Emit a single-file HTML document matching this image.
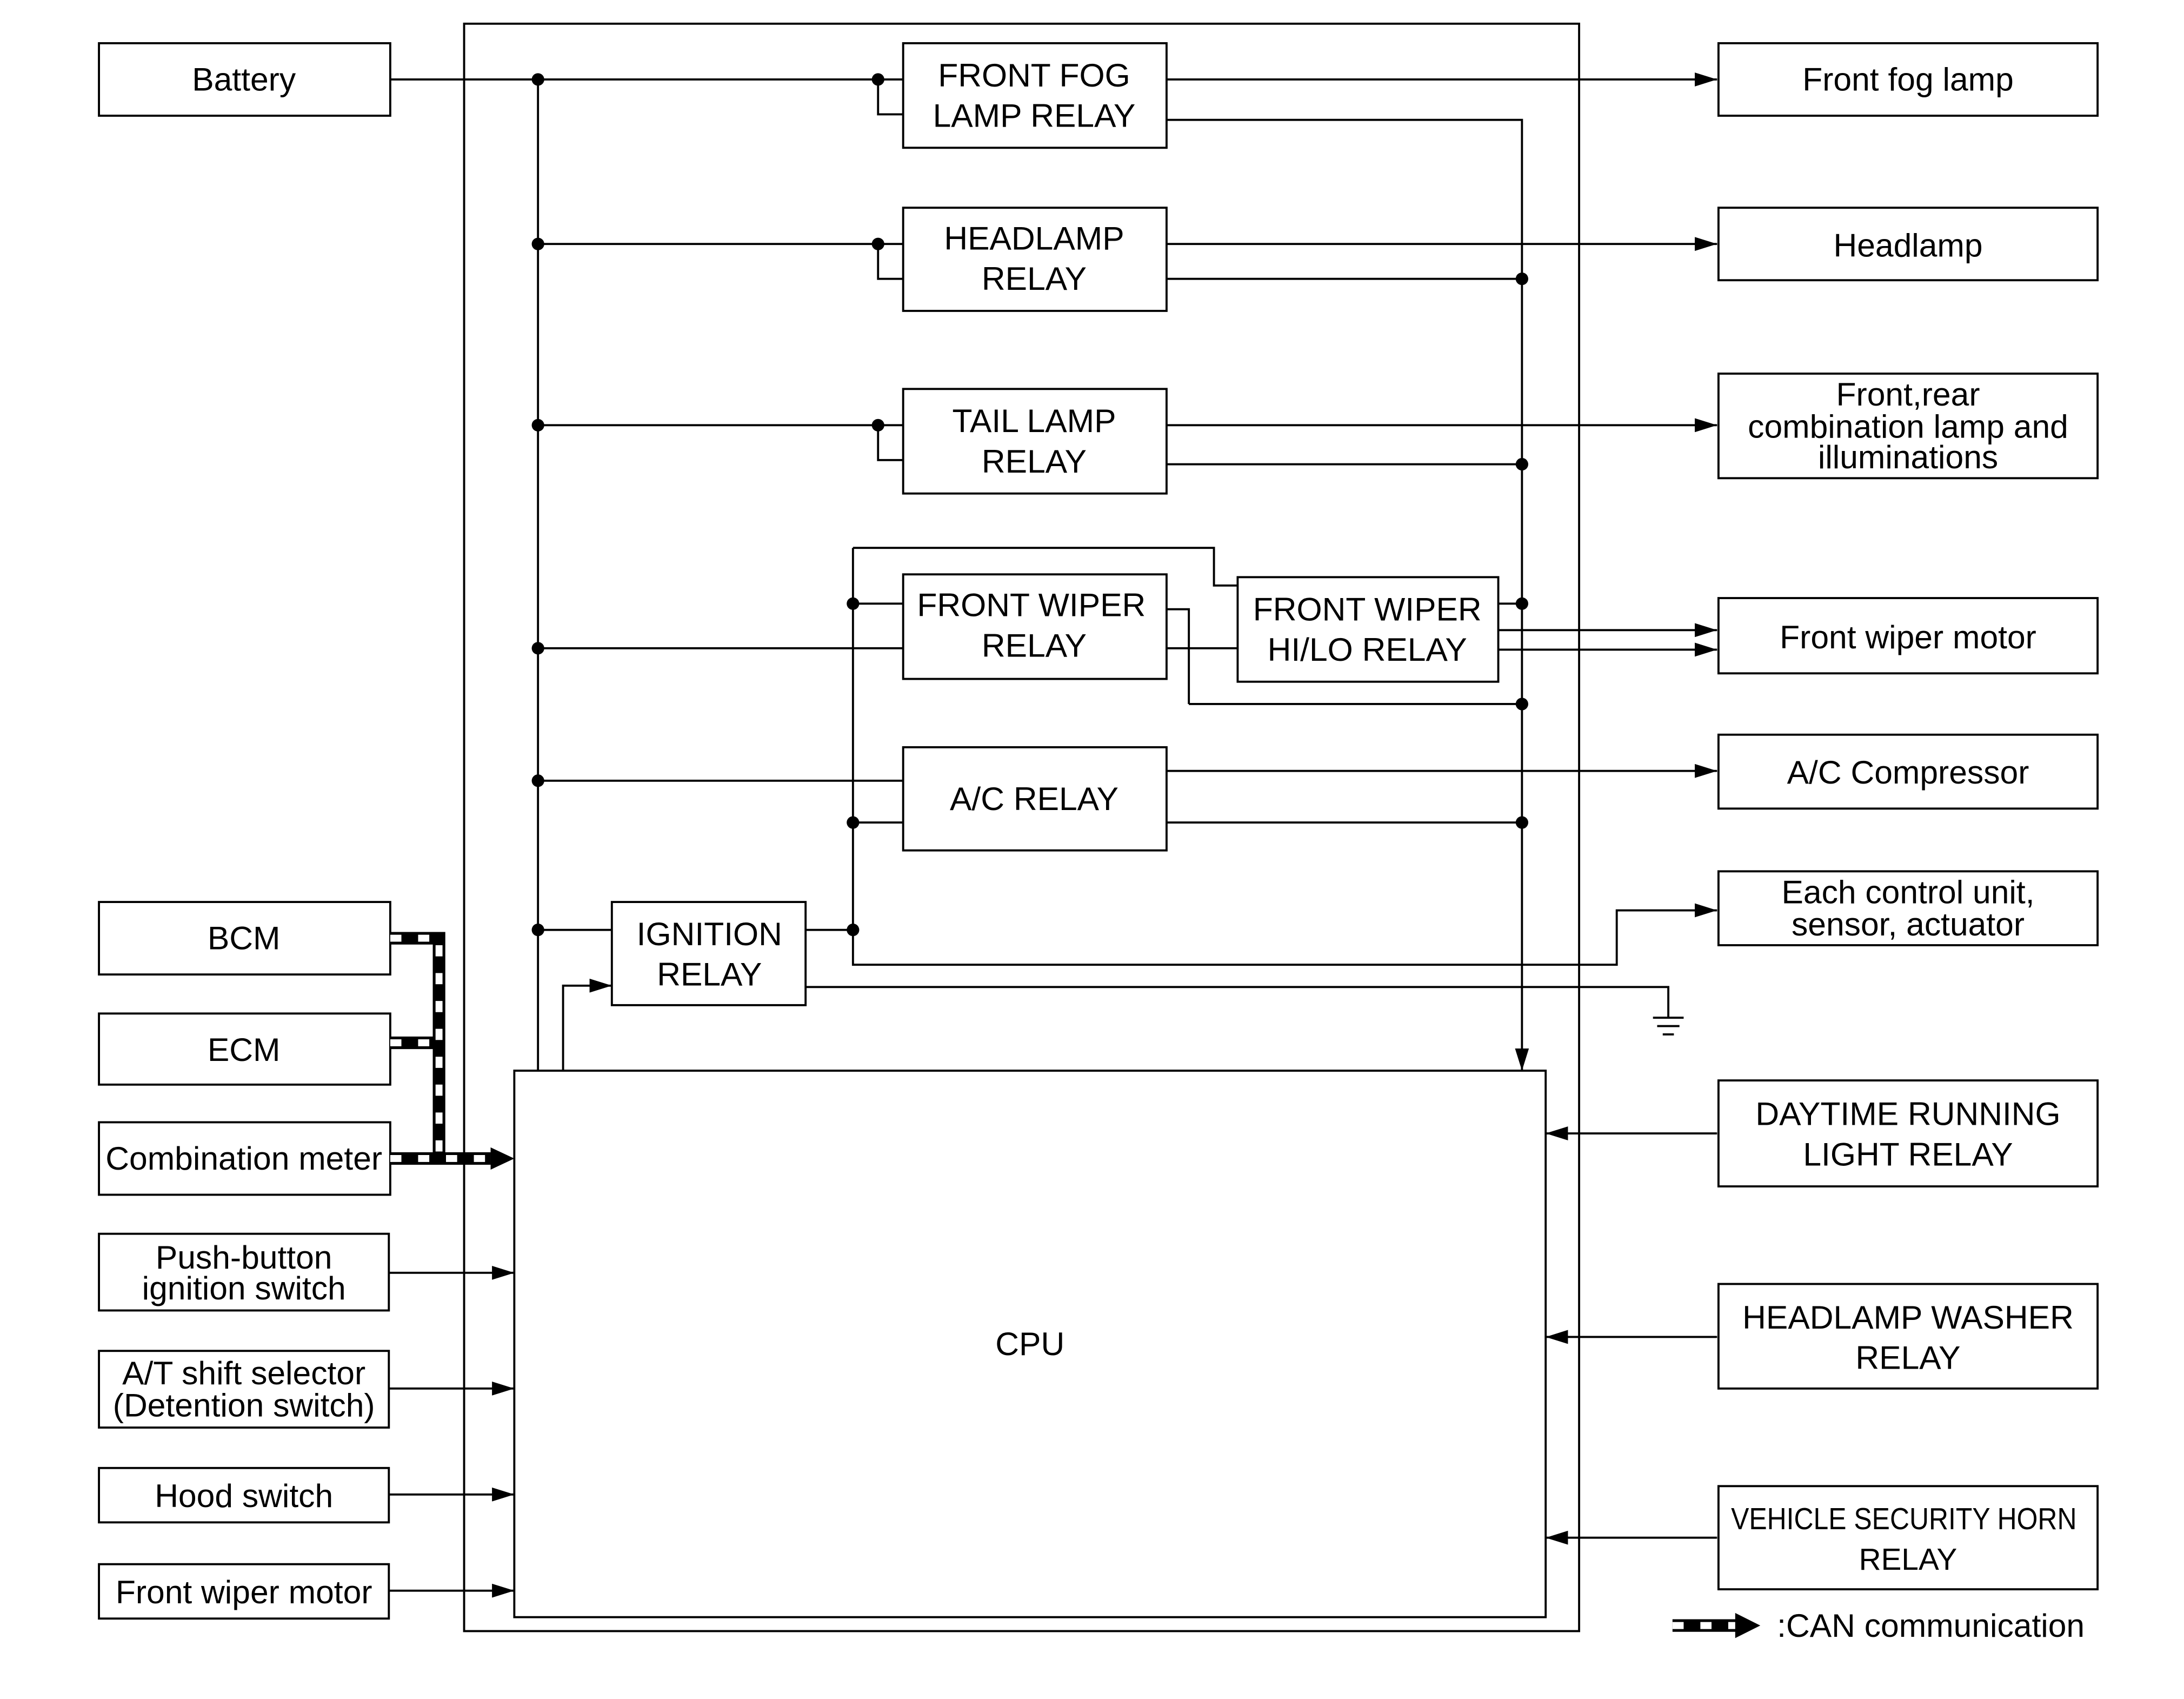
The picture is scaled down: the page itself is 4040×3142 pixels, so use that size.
<!DOCTYPE html>
<html><head><meta charset="utf-8"><style>
html,body{margin:0;padding:0;background:#fff;}
svg{display:block;}
text{font-family:"Liberation Sans",Arial,sans-serif;font-size:23.5px;fill:#000;text-anchor:middle;}
</style></head><body>
<svg width="4040" height="3142" viewBox="0 0 1567 1218.7" preserveAspectRatio="none" xmlns="http://www.w3.org/2000/svg">
<defs>
<marker id="a" markerWidth="16" markerHeight="10" refX="16" refY="5" orient="auto" markerUnits="userSpaceOnUse"><path d="M0,0 L16,5 L0,10 Z" fill="#000"/></marker>
</defs>
<g fill="none" stroke="#000" stroke-width="1.5">
<rect x="333" y="17" width="800" height="1153"/>
<rect x="369" y="768" width="740" height="392"/>
<rect x="71" y="31" width="209" height="52"/>
<rect x="71" y="647" width="209" height="52"/>
<rect x="71" y="727" width="209" height="51"/>
<rect x="71" y="805" width="209" height="52"/>
<rect x="71" y="885" width="208" height="55"/>
<rect x="71" y="969" width="208" height="55"/>
<rect x="71" y="1053" width="208" height="39"/>
<rect x="71" y="1122" width="208" height="39"/>
<rect x="648" y="31" width="189" height="75"/>
<rect x="648" y="149" width="189" height="74"/>
<rect x="648" y="279" width="189" height="75"/>
<rect x="648" y="412" width="189" height="75"/>
<rect x="888" y="414" width="187" height="75"/>
<rect x="648" y="536" width="189" height="74"/>
<rect x="439" y="647" width="139" height="74"/>
<rect x="1233" y="31" width="272" height="52"/>
<rect x="1233" y="149" width="272" height="52"/>
<rect x="1233" y="268" width="272" height="75"/>
<rect x="1233" y="429" width="272" height="54"/>
<rect x="1233" y="527" width="272" height="53"/>
<rect x="1233" y="625" width="272" height="53"/>
<rect x="1233" y="775" width="272" height="76"/>
<rect x="1233" y="921" width="272" height="75"/>
<rect x="1233" y="1066" width="272" height="74"/>
<path d="M280,57 H648"/>
<path d="M386,57 V768"/>
<path d="M630,57 V82 H648"/>
<path d="M386,175 H648 M630,175 V200 H648"/>
<path d="M386,305 H648 M630,305 V330 H648"/>
<path d="M837,86 H1092 V768" marker-end="url(#a)"/>
<path d="M837,200 H1092 M837,333 H1092 M1075,433 H1092 M853,505 H1092 M837,590 H1092"/>
<path d="M612,393 V692 H1160 V653 H1232" marker-end="url(#a)"/>
<path d="M612,393 H871 V420 H888"/>
<path d="M612,433 H648 M386,465 H648 M837,465 H888 M612,590 H648 M386,560 H648"/>
<path d="M837,437 H853 V505"/>
<path d="M386,667 H439 M578,667 H612"/>
<path d="M578,708 H1197 V730 M1186,730 H1208 M1189,736 H1205 M1193,742 H1201"/>
<path d="M404,768 V707 H439" marker-end="url(#a)"/>
<path d="M837,57 H1232" marker-end="url(#a)"/>
<path d="M837,175 H1232" marker-end="url(#a)"/>
<path d="M837,305 H1232" marker-end="url(#a)"/>
<path d="M1075,452 H1232" marker-end="url(#a)"/>
<path d="M1075,466 H1232" marker-end="url(#a)"/>
<path d="M837,553 H1232" marker-end="url(#a)"/>
<path d="M1232,813 H1109" marker-end="url(#a)"/>
<path d="M1232,959 H1109" marker-end="url(#a)"/>
<path d="M1232,1103 H1109" marker-end="url(#a)"/>
<path d="M279,913 H369" marker-end="url(#a)"/>
<path d="M279,996 H369" marker-end="url(#a)"/>
<path d="M279,1072 H369" marker-end="url(#a)"/>
<path d="M279,1141 H369" marker-end="url(#a)"/>
</g>
<g fill="none">
<path d="M280,673 H315 V831 M280,748 H315 M280,831 H352" stroke="#000" stroke-width="9"/>
<path d="M280,673 H315 V831 M280,748 H315 M280,831 H352" stroke="#fff" stroke-width="5" stroke-dasharray="8,12"/>
<path d="M352,823 L369,831 L352,839 Z" fill="#000"/>
<path d="M1200,1166 H1246" stroke="#000" stroke-width="9"/>
<path d="M1200,1166 H1246" stroke="#fff" stroke-width="5" stroke-dasharray="8,12"/>
<path d="M1245,1157 L1263,1166 L1245,1175 Z" fill="#000"/>
</g>
<g fill="#000">
<circle cx="386" cy="57" r="4.5"/><circle cx="630" cy="57" r="4.5"/>
<circle cx="386" cy="175" r="4.5"/><circle cx="630" cy="175" r="4.5"/>
<circle cx="386" cy="305" r="4.5"/><circle cx="630" cy="305" r="4.5"/>
<circle cx="386" cy="465" r="4.5"/><circle cx="386" cy="560" r="4.5"/><circle cx="386" cy="667" r="4.5"/>
<circle cx="612" cy="433" r="4.5"/><circle cx="612" cy="590" r="4.5"/><circle cx="612" cy="667" r="4.5"/>
<circle cx="1092" cy="200" r="4.5"/><circle cx="1092" cy="333" r="4.5"/><circle cx="1092" cy="433" r="4.5"/>
<circle cx="1092" cy="505" r="4.5"/><circle cx="1092" cy="590" r="4.5"/>
</g>
<text x="175" y="65">Battery</text>
<text x="175" y="681">BCM</text>
<text x="175" y="761">ECM</text>
<text x="175" y="839">Combination meter</text>
<text x="175" y="910">Push-button</text>
<text x="175" y="932">ignition switch</text>
<text x="175" y="993">A/T shift selector</text>
<text x="175" y="1016">(Detention switch)</text>
<text x="175" y="1081">Hood switch</text>
<text x="175" y="1150">Front wiper motor</text>
<text x="742" y="62">FRONT FOG</text>
<text x="742" y="91">LAMP RELAY</text>
<text x="742" y="179">HEADLAMP</text>
<text x="742" y="208">RELAY</text>
<text x="742" y="310">TAIL LAMP</text>
<text x="742" y="339">RELAY</text>
<text x="740" y="442">FRONT WIPER</text>
<text x="742" y="471">RELAY</text>
<text x="981" y="445">FRONT WIPER</text>
<text x="981" y="474">HI/LO RELAY</text>
<text x="742" y="581">A/C RELAY</text>
<text x="509" y="678">IGNITION</text>
<text x="509" y="707">RELAY</text>
<text x="739" y="972">CPU</text>
<text x="1369" y="65">Front fog lamp</text>
<text x="1369" y="184">Headlamp</text>
<text x="1369" y="291">Front,rear</text>
<text x="1369" y="314">combination lamp and</text>
<text x="1369" y="336">illuminations</text>
<text x="1369" y="465">Front wiper motor</text>
<text x="1369" y="562">A/C Compressor</text>
<text x="1369" y="648">Each control unit,</text>
<text x="1369" y="671">sensor, actuator</text>
<text x="1369" y="807">DAYTIME RUNNING</text>
<text x="1369" y="836">LIGHT RELAY</text>
<text x="1369" y="953">HEADLAMP WASHER</text>
<text x="1369" y="982">RELAY</text>
<text x="1366" y="1097" style="font-size:22px" textLength="248" lengthAdjust="spacingAndGlyphs">VEHICLE SECURITY HORN</text>
<text x="1369" y="1126" style="font-size:22px">RELAY</text>
<text x="1275" y="1174" style="text-anchor:start">:CAN communication</text>
</svg>
</body></html>
